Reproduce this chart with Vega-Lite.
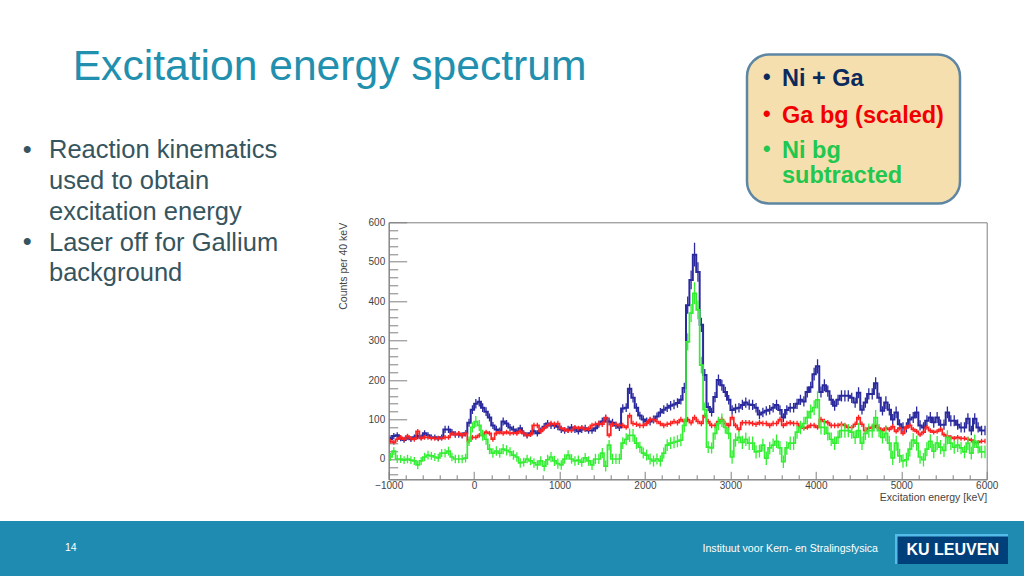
{
"$schema":"https://vega.github.io/schema/vega-lite/v6.json",
"width":598,"height":257,
"autosize":"none",
"padding":{"left":388.7,"top":222.3,"right":37.3,"bottom":96.7},
"background":"white",
"config":{"view":{"stroke":"#808080","strokeWidth":1},"font":"Liberation Sans"},
"datasets":{"spectrum":[
{"e":-980,"n":50,"ne":7,"g":45,"ge":6,"s":5,"se":10},
{"e":-940,"n":58,"ne":8,"g":42,"ge":6,"s":20,"se":10},
{"e":-900,"n":60,"ne":8,"g":50,"ge":6,"s":0,"se":10},
{"e":-860,"n":52,"ne":7,"g":55,"ge":6,"s":0,"se":10},
{"e":-820,"n":48,"ne":7,"g":50,"ge":6,"s":-3,"se":10},
{"e":-780,"n":56,"ne":7,"g":58,"ge":6,"s":0,"se":11},
{"e":-740,"n":50,"ne":7,"g":52,"ge":6,"s":-3,"se":10},
{"e":-700,"n":55,"ne":7,"g":50,"ge":6,"s":-5,"se":10},
{"e":-660,"n":58,"ne":8,"g":70,"ge":6,"s":-15,"se":11},
{"e":-620,"n":55,"ne":7,"g":52,"ge":6,"s":-5,"se":10},
{"e":-580,"n":65,"ne":8,"g":55,"ge":6,"s":5,"se":11},
{"e":-540,"n":60,"ne":8,"g":55,"ge":6,"s":10,"se":11},
{"e":-500,"n":55,"ne":7,"g":53,"ge":6,"s":8,"se":10},
{"e":-460,"n":55,"ne":7,"g":52,"ge":6,"s":5,"se":10},
{"e":-420,"n":52,"ne":7,"g":52,"ge":6,"s":3,"se":10},
{"e":-380,"n":55,"ne":7,"g":52,"ge":6,"s":15,"se":10},
{"e":-340,"n":75,"ne":9,"g":55,"ge":6,"s":15,"se":11},
{"e":-300,"n":75,"ne":9,"g":55,"ge":6,"s":20,"se":11},
{"e":-260,"n":68,"ne":8,"g":65,"ge":6,"s":5,"se":11},
{"e":-220,"n":62,"ne":8,"g":62,"ge":6,"s":0,"se":11},
{"e":-180,"n":62,"ne":8,"g":65,"ge":6,"s":0,"se":11},
{"e":-140,"n":60,"ne":8,"g":60,"ge":6,"s":0,"se":11},
{"e":-100,"n":65,"ne":8,"g":65,"ge":6,"s":2,"se":11},
{"e":-60,"n":92,"ne":10,"g":45,"ge":6,"s":45,"se":12},
{"e":-20,"n":125,"ne":11,"g":55,"ge":6,"s":80,"se":13},
{"e":20,"n":140,"ne":12,"g":55,"ge":6,"s":95,"se":14},
{"e":60,"n":145,"ne":12,"g":60,"ge":6,"s":85,"se":14},
{"e":100,"n":130,"ne":11,"g":60,"ge":6,"s":60,"se":14},
{"e":140,"n":120,"ne":11,"g":68,"ge":6,"s":50,"se":14},
{"e":180,"n":105,"ne":10,"g":65,"ge":6,"s":25,"se":13},
{"e":220,"n":85,"ne":9,"g":50,"ge":6,"s":15,"se":12},
{"e":260,"n":75,"ne":9,"g":65,"ge":6,"s":20,"se":12},
{"e":300,"n":72,"ne":8,"g":68,"ge":6,"s":15,"se":12},
{"e":340,"n":95,"ne":10,"g":65,"ge":6,"s":25,"se":13},
{"e":380,"n":90,"ne":9,"g":68,"ge":6,"s":22,"se":13},
{"e":420,"n":80,"ne":9,"g":65,"ge":6,"s":18,"se":12},
{"e":460,"n":75,"ne":9,"g":66,"ge":6,"s":10,"se":12},
{"e":500,"n":70,"ne":8,"g":65,"ge":6,"s":5,"se":12},
{"e":540,"n":78,"ne":9,"g":70,"ge":6,"s":-10,"se":12},
{"e":580,"n":65,"ne":8,"g":65,"ge":6,"s":-8,"se":11},
{"e":620,"n":60,"ne":8,"g":60,"ge":6,"s":0,"se":11},
{"e":660,"n":65,"ne":8,"g":62,"ge":6,"s":-5,"se":11},
{"e":700,"n":70,"ne":8,"g":85,"ge":7,"s":-10,"se":12},
{"e":740,"n":65,"ne":8,"g":85,"ge":7,"s":-15,"se":12},
{"e":780,"n":72,"ne":8,"g":70,"ge":6,"s":-5,"se":12},
{"e":820,"n":82,"ne":9,"g":78,"ge":6,"s":-18,"se":13},
{"e":860,"n":90,"ne":9,"g":85,"ge":7,"s":-2,"se":13},
{"e":900,"n":85,"ne":9,"g":90,"ge":7,"s":5,"se":13},
{"e":940,"n":85,"ne":9,"g":88,"ge":7,"s":-5,"se":13},
{"e":980,"n":82,"ne":9,"g":90,"ge":7,"s":-12,"se":13},
{"e":1020,"n":75,"ne":9,"g":78,"ge":6,"s":-15,"se":12},
{"e":1060,"n":72,"ne":8,"g":75,"ge":6,"s":0,"se":12},
{"e":1100,"n":75,"ne":9,"g":72,"ge":6,"s":10,"se":12},
{"e":1140,"n":80,"ne":9,"g":72,"ge":6,"s":0,"se":12},
{"e":1180,"n":75,"ne":9,"g":80,"ge":6,"s":-5,"se":12},
{"e":1220,"n":70,"ne":8,"g":78,"ge":6,"s":-3,"se":12},
{"e":1260,"n":75,"ne":9,"g":80,"ge":6,"s":-8,"se":12},
{"e":1300,"n":78,"ne":9,"g":75,"ge":6,"s":3,"se":12},
{"e":1340,"n":72,"ne":8,"g":77,"ge":6,"s":-5,"se":12},
{"e":1380,"n":72,"ne":8,"g":85,"ge":7,"s":-15,"se":13},
{"e":1420,"n":78,"ne":9,"g":88,"ge":7,"s":0,"se":13},
{"e":1460,"n":88,"ne":9,"g":90,"ge":7,"s":0,"se":13},
{"e":1500,"n":95,"ne":10,"g":88,"ge":7,"s":15,"se":13},
{"e":1540,"n":102,"ne":10,"g":105,"ge":7,"s":-18,"se":14},
{"e":1580,"n":95,"ne":10,"g":60,"ge":6,"s":35,"se":13},
{"e":1620,"n":92,"ne":10,"g":88,"ge":7,"s":0,"se":13},
{"e":1660,"n":85,"ne":9,"g":88,"ge":7,"s":0,"se":13},
{"e":1700,"n":80,"ne":9,"g":85,"ge":7,"s":0,"se":13},
{"e":1740,"n":128,"ne":11,"g":85,"ge":7,"s":40,"se":15},
{"e":1780,"n":130,"ne":11,"g":80,"ge":6,"s":50,"se":15},
{"e":1820,"n":178,"ne":13,"g":110,"ge":7,"s":60,"se":17},
{"e":1860,"n":155,"ne":12,"g":90,"ge":7,"s":60,"se":16},
{"e":1900,"n":130,"ne":11,"g":88,"ge":7,"s":40,"se":15},
{"e":1940,"n":110,"ne":10,"g":85,"ge":7,"s":30,"se":14},
{"e":1980,"n":100,"ne":10,"g":85,"ge":7,"s":15,"se":14},
{"e":2020,"n":95,"ne":10,"g":90,"ge":7,"s":10,"se":14},
{"e":2060,"n":95,"ne":10,"g":100,"ge":7,"s":0,"se":14},
{"e":2100,"n":100,"ne":10,"g":100,"ge":7,"s":-5,"se":14},
{"e":2140,"n":108,"ne":10,"g":95,"ge":7,"s":0,"se":14},
{"e":2180,"n":118,"ne":11,"g":90,"ge":7,"s":-5,"se":14},
{"e":2220,"n":125,"ne":11,"g":85,"ge":7,"s":15,"se":14},
{"e":2260,"n":130,"ne":11,"g":88,"ge":7,"s":35,"se":15},
{"e":2300,"n":135,"ne":12,"g":90,"ge":7,"s":40,"se":15},
{"e":2340,"n":138,"ne":12,"g":95,"ge":7,"s":42,"se":15},
{"e":2380,"n":142,"ne":12,"g":92,"ge":7,"s":45,"se":15},
{"e":2420,"n":150,"ne":12,"g":100,"ge":7,"s":48,"se":16},
{"e":2460,"n":180,"ne":13,"g":95,"ge":7,"s":85,"se":17},
{"e":2500,"n":390,"ne":22,"g":100,"ge":7,"s":297,"se":22},
{"e":2540,"n":454,"ne":24,"g":92,"ge":7,"s":370,"se":23},
{"e":2580,"n":518,"ne":30,"g":105,"ge":7,"s":420,"se":28},
{"e":2620,"n":474,"ne":25,"g":95,"ge":7,"s":378,"se":24},
{"e":2660,"n":340,"ne":18,"g":90,"ge":7,"s":238,"se":21},
{"e":2700,"n":213,"ne":15,"g":110,"ge":7,"s":125,"se":18},
{"e":2740,"n":132,"ne":11,"g":95,"ge":7,"s":30,"se":15},
{"e":2780,"n":119,"ne":11,"g":85,"ge":7,"s":28,"se":14},
{"e":2820,"n":157,"ne":13,"g":85,"ge":7,"s":65,"se":16},
{"e":2860,"n":200,"ne":14,"g":95,"ge":7,"s":90,"se":17},
{"e":2900,"n":187,"ne":14,"g":100,"ge":7,"s":98,"se":17},
{"e":2940,"n":170,"ne":13,"g":90,"ge":7,"s":80,"se":16},
{"e":2980,"n":150,"ne":12,"g":85,"ge":7,"s":65,"se":15},
{"e":3020,"n":124,"ne":12,"g":105,"ge":7,"s":5,"se":17},
{"e":3060,"n":128,"ne":12,"g":85,"ge":7,"s":48,"se":17},
{"e":3100,"n":130,"ne":12,"g":75,"ge":6,"s":55,"se":16},
{"e":3140,"n":137,"ne":13,"g":92,"ge":7,"s":42,"se":17},
{"e":3180,"n":143,"ne":13,"g":92,"ge":7,"s":50,"se":17},
{"e":3220,"n":138,"ne":13,"g":92,"ge":7,"s":40,"se":17},
{"e":3260,"n":137,"ne":13,"g":90,"ge":7,"s":40,"se":17},
{"e":3300,"n":130,"ne":12,"g":88,"ge":7,"s":18,"se":17},
{"e":3340,"n":113,"ne":12,"g":92,"ge":7,"s":20,"se":16},
{"e":3380,"n":118,"ne":12,"g":90,"ge":7,"s":35,"se":16},
{"e":3420,"n":122,"ne":12,"g":90,"ge":7,"s":2,"se":17},
{"e":3460,"n":125,"ne":12,"g":85,"ge":7,"s":28,"se":16},
{"e":3500,"n":130,"ne":12,"g":90,"ge":7,"s":35,"se":17},
{"e":3540,"n":137,"ne":13,"g":90,"ge":7,"s":45,"se":17},
{"e":3580,"n":124,"ne":12,"g":100,"ge":7,"s":28,"se":17},
{"e":3620,"n":105,"ne":11,"g":85,"ge":7,"s":-7,"se":16},
{"e":3660,"n":124,"ne":12,"g":90,"ge":7,"s":28,"se":17},
{"e":3700,"n":130,"ne":12,"g":92,"ge":7,"s":40,"se":17},
{"e":3740,"n":130,"ne":12,"g":90,"ge":7,"s":40,"se":17},
{"e":3780,"n":140,"ne":13,"g":90,"ge":7,"s":68,"se":17},
{"e":3820,"n":150,"ne":13,"g":82,"ge":7,"s":80,"se":17},
{"e":3860,"n":146,"ne":13,"g":78,"ge":6,"s":90,"se":17},
{"e":3900,"n":170,"ne":14,"g":80,"ge":6,"s":105,"se":18},
{"e":3940,"n":182,"ne":14,"g":85,"ge":7,"s":120,"se":18},
{"e":3980,"n":215,"ne":16,"g":85,"ge":7,"s":130,"se":19},
{"e":4020,"n":235,"ne":18,"g":80,"ge":6,"s":150,"se":22},
{"e":4060,"n":170,"ne":14,"g":100,"ge":7,"s":80,"se":18},
{"e":4100,"n":187,"ne":15,"g":95,"ge":7,"s":80,"se":19},
{"e":4140,"n":172,"ne":14,"g":92,"ge":7,"s":65,"se":18},
{"e":4180,"n":150,"ne":13,"g":85,"ge":7,"s":50,"se":17},
{"e":4220,"n":135,"ne":13,"g":85,"ge":7,"s":40,"se":17},
{"e":4260,"n":150,"ne":13,"g":85,"ge":7,"s":55,"se":17},
{"e":4300,"n":160,"ne":14,"g":88,"ge":7,"s":72,"se":18},
{"e":4340,"n":160,"ne":14,"g":85,"ge":7,"s":72,"se":18},
{"e":4380,"n":160,"ne":14,"g":80,"ge":6,"s":72,"se":17},
{"e":4420,"n":155,"ne":13,"g":80,"ge":6,"s":68,"se":17},
{"e":4460,"n":143,"ne":13,"g":88,"ge":7,"s":55,"se":17},
{"e":4500,"n":168,"ne":14,"g":105,"ge":7,"s":72,"se":19},
{"e":4540,"n":125,"ne":12,"g":88,"ge":7,"s":40,"se":17},
{"e":4580,"n":143,"ne":13,"g":72,"ge":6,"s":65,"se":17},
{"e":4620,"n":165,"ne":14,"g":78,"ge":6,"s":72,"se":18},
{"e":4660,"n":165,"ne":14,"g":80,"ge":6,"s":72,"se":18},
{"e":4700,"n":192,"ne":15,"g":85,"ge":7,"s":105,"se":19},
{"e":4740,"n":155,"ne":13,"g":78,"ge":6,"s":72,"se":17},
{"e":4780,"n":122,"ne":12,"g":72,"ge":6,"s":55,"se":16},
{"e":4820,"n":143,"ne":16,"g":78,"ge":6,"s":65,"se":20},
{"e":4860,"n":125,"ne":15,"g":75,"ge":6,"s":40,"se":19},
{"e":4900,"n":100,"ne":14,"g":82,"ge":7,"s":3,"se":18},
{"e":4940,"n":118,"ne":15,"g":70,"ge":6,"s":40,"se":19},
{"e":4980,"n":88,"ne":13,"g":78,"ge":6,"s":8,"se":18},
{"e":5020,"n":80,"ne":13,"g":65,"ge":6,"s":-5,"se":17},
{"e":5060,"n":80,"ne":13,"g":80,"ge":6,"s":-2,"se":18},
{"e":5100,"n":100,"ne":14,"g":85,"ge":7,"s":25,"se":19},
{"e":5140,"n":105,"ne":14,"g":75,"ge":6,"s":48,"se":18},
{"e":5180,"n":118,"ne":15,"g":70,"ge":6,"s":40,"se":19},
{"e":5220,"n":85,"ne":13,"g":62,"ge":6,"s":5,"se":17},
{"e":5260,"n":80,"ne":13,"g":68,"ge":6,"s":-2,"se":17},
{"e":5300,"n":97,"ne":14,"g":80,"ge":6,"s":25,"se":18},
{"e":5340,"n":105,"ne":14,"g":72,"ge":6,"s":45,"se":18},
{"e":5380,"n":93,"ne":14,"g":68,"ge":6,"s":20,"se":18},
{"e":5420,"n":105,"ne":14,"g":70,"ge":6,"s":40,"se":18},
{"e":5460,"n":87,"ne":13,"g":75,"ge":6,"s":30,"se":18},
{"e":5500,"n":87,"ne":13,"g":62,"ge":6,"s":22,"se":17},
{"e":5540,"n":118,"ne":15,"g":58,"ge":6,"s":55,"se":18},
{"e":5580,"n":97,"ne":14,"g":55,"ge":6,"s":40,"se":17},
{"e":5620,"n":97,"ne":14,"g":52,"ge":6,"s":30,"se":17},
{"e":5660,"n":87,"ne":13,"g":55,"ge":6,"s":35,"se":17},
{"e":5700,"n":80,"ne":13,"g":52,"ge":6,"s":28,"se":16},
{"e":5740,"n":80,"ne":13,"g":52,"ge":6,"s":18,"se":16},
{"e":5780,"n":102,"ne":14,"g":50,"ge":6,"s":40,"se":17},
{"e":5820,"n":72,"ne":12,"g":48,"ge":6,"s":15,"se":16},
{"e":5860,"n":102,"ne":14,"g":42,"ge":6,"s":45,"se":17},
{"e":5900,"n":80,"ne":13,"g":42,"ge":6,"s":30,"se":16},
{"e":5940,"n":72,"ne":12,"g":45,"ge":6,"s":18,"se":16},
{"e":5980,"n":72,"ne":12,"g":45,"ge":6,"s":18,"se":16}
]},
"layer":[
{"data":{"values":[{"part":"footer"}]},"mark":{"type":"rect","x":-388.7,"x2":635.3,"y":298.7,"y2":353.7,"fill":"#1F8BB0","stroke":null},"encoding":{}},
{"data":{"values":[{"part":"footer edge"}]},"mark":{"type":"rule","x":-388.7,"x2":635.3,"y":298.7,"stroke":"#7FBFD6","strokeWidth":1},"encoding":{}},
{"data":{"values":[{"part":"logo edge"}]},"mark":{"type":"rect","x":506.3,"x2":619.3,"y":311.7,"y2":341.7,"fill":"#55BBE8"},"encoding":{}},
{"data":{"values":[{"part":"logo"}]},"mark":{"type":"rect","x":508.8,"x2":619.3,"y":314.2,"y2":341.7,"fill":"#00407A"},"encoding":{}},
{"data":{"values":[{"t":"KU LEUVEN"}]},"mark":{"type":"text","x":564,"y":327.2,"align":"center","baseline":"middle","font":"Liberation Sans","fontWeight":"bold","fontSize":16,"color":"white"},"encoding":{"text":{"field":"t"}}},
{"data":{"values":[{"t":"Instituut voor Kern- en Stralingsfysica"}]},"mark":{"type":"text","x":489.3,"y":326.7,"align":"right","baseline":"middle","font":"Liberation Sans","fontSize":10.6,"color":"white"},"encoding":{"text":{"field":"t"}}},
{"data":{"values":[{"t":"14"}]},"mark":{"type":"text","x":-323.7,"y":326,"align":"left","baseline":"middle","font":"Liberation Sans","fontSize":10.5,"color":"white"},"encoding":{"text":{"field":"t"}}},
{"data":{"values":[{"t":"Excitation energy spectrum"}]},"mark":{"type":"text","x":-316,"y":-155.5,"align":"left","baseline":"middle","font":"Liberation Sans","fontSize":42.6,"color":"#2190AE"},"encoding":{"text":{"field":"t"}}},
{"data":{"values":[{"t":"Reaction kinematics\nused to obtain\nexcitation energy\nLaser off for Gallium\nbackground"}]},"mark":{"type":"text","x":-339.7,"y":-72,"align":"left","baseline":"middle","lineBreak":"\n","lineHeight":30.8,"font":"Liberation Sans","fontSize":25.5,"color":"#36555E"},"encoding":{"text":{"field":"t"}}},
{"data":{"values":[{"t":"•"}]},"mark":{"type":"text","x":-366,"y":-72.3,"align":"left","baseline":"middle","font":"Liberation Sans","fontSize":25.5,"color":"#36555E"},"encoding":{"text":{"field":"t"}}},
{"data":{"values":[{"t":"•"}]},"mark":{"type":"text","x":-366,"y":19.7,"align":"left","baseline":"middle","font":"Liberation Sans","fontSize":25.5,"color":"#36555E"},"encoding":{"text":{"field":"t"}}},
{"data":{"values":[{"part":"legend box"}]},"mark":{"type":"rect","x":358.3,"x2":571.3,"y":-167.8,"y2":-18.8,"fill":"#F6DFAE","stroke":"#5C86A3","strokeWidth":2.5,"cornerRadius":22},"encoding":{}},
{"data":{"values":[{"t":"Ni + Ga"}]},"mark":{"type":"text","x":393.3,"y":-143.5,"align":"left","baseline":"middle","font":"Liberation Sans","fontWeight":"bold","fontSize":23.5,"color":"#0B2A5C"},"encoding":{"text":{"field":"t"}}},
{"data":{"values":[{"t":"•"}]},"mark":{"type":"text","x":374,"y":-144,"align":"left","baseline":"middle","font":"Liberation Sans","fontSize":23,"color":"#0B2A5C"},"encoding":{"text":{"field":"t"}}},
{"data":{"values":[{"t":"Ga bg (scaled)"}]},"mark":{"type":"text","x":393.3,"y":-106.5,"align":"left","baseline":"middle","font":"Liberation Sans","fontWeight":"bold","fontSize":23.5,"color":"#F00000"},"encoding":{"text":{"field":"t"}}},
{"data":{"values":[{"t":"•"}]},"mark":{"type":"text","x":374,"y":-107,"align":"left","baseline":"middle","font":"Liberation Sans","fontSize":23,"color":"#F00000"},"encoding":{"text":{"field":"t"}}},
{"data":{"values":[{"t":"Ni bg\nsubtracted"}]},"mark":{"type":"text","x":393.3,"y":-71,"align":"left","baseline":"middle","lineBreak":"\n","lineHeight":25,"font":"Liberation Sans","fontWeight":"bold","fontSize":23.5,"color":"#22C74F"},"encoding":{"text":{"field":"t"}}},
{"data":{"values":[{"t":"•"}]},"mark":{"type":"text","x":374,"y":-72,"align":"left","baseline":"middle","font":"Liberation Sans","fontSize":23,"color":"#22C74F"},"encoding":{"text":{"field":"t"}}},
{"data":{"name":"spectrum"},"mark":{"type":"line","interpolate":"step","color":"#2A2A9E","strokeWidth":2,"clip":true},
 "encoding":{
  "x":{"field":"e","type":"quantitative","title":"Excitation energy [keV]","scale":{"domain":[-1000,6000],"nice":false,"zero":false},
   "axis":{"values":[-1000,-800,-600,-400,-200,0,200,400,600,800,1000,1200,1400,1600,1800,2000,2200,2400,2600,2800,3000,3200,3400,3600,3800,4000,4200,4400,4600,4800,5000,5200,5400,5600,5800,6000],"tickCount":200,
    "labelExpr":"datum.value % 1000 === 0 ? replace(format(datum.value,'d'),'-','−') : ''","labelOverlap":false,"labelFlush":false,"labelPadding":9,"labelFontSize":10,"labelColor":"#444","labelFont":"Liberation Sans",
    "tickColor":"#808080","domainColor":"#808080","grid":false,
    "tickSize":{"condition":{"test":"datum.value % 1000 === 0","value":-8},"value":-4.5},
    "titleFontSize":10.5,"titleFontWeight":"normal","titleColor":"#444","titleFont":"Liberation Sans","titleAnchor":"end","titleAlign":"right","titleX":598,"titleY":13}},
  "y":{"field":"n","type":"quantitative","title":"Counts per 40 keV","scale":{"domain":[-51.5,600],"nice":false,"zero":false},
   "axis":{"values":[-40,-20,0,20,40,60,80,100,120,140,160,180,200,220,240,260,280,300,320,340,360,380,400,420,440,460,480,500,520,540,560,580,600],"tickCount":200,
    "labelExpr":"datum.value % 100 === 0 ? format(datum.value,'d') : ''","labelOverlap":false,"labelFlush":false,"labelPadding":22,"labelFontSize":10,"labelColor":"#444","labelFont":"Liberation Sans",
    "tickColor":"#808080","domainColor":"#808080","grid":false,
    "tickSize":{"condition":{"test":"datum.value % 100 === 0","value":-18},"value":-9},
    "titleFontSize":10.5,"titleFontWeight":"normal","titleColor":"#444","titleFont":"Liberation Sans","titleAnchor":"end","titleAlign":"right","titleAngle":-90,"titleX":-40,"titleY":0}}
 }},
{"data":{"name":"spectrum"},"mark":{"type":"errorbar","ticks":false,"color":"#2A2A9E","clip":true,"rule":{"strokeWidth":1.3}},"encoding":{"x":{"field":"e","type":"quantitative","title":"Excitation energy [keV]"},"y":{"field":"n","type":"quantitative","title":"Counts per 40 keV"},"yError":{"field":"ne"}}},
{"data":{"name":"spectrum"},"mark":{"type":"line","interpolate":"step","color":"#FF2222","strokeWidth":1.7,"clip":true},"encoding":{"x":{"field":"e","type":"quantitative","title":"Excitation energy [keV]"},"y":{"field":"g","type":"quantitative","title":"Counts per 40 keV"}}},
{"data":{"name":"spectrum"},"mark":{"type":"errorbar","ticks":false,"color":"#FF2222","clip":true,"rule":{"strokeWidth":1.3}},"encoding":{"x":{"field":"e","type":"quantitative","title":"Excitation energy [keV]"},"y":{"field":"g","type":"quantitative","title":"Counts per 40 keV"},"yError":{"field":"ge"}}},
{"data":{"name":"spectrum"},"mark":{"type":"line","interpolate":"step","color":"#33EE33","strokeWidth":1.7,"clip":true},"encoding":{"x":{"field":"e","type":"quantitative","title":"Excitation energy [keV]"},"y":{"field":"s","type":"quantitative","title":"Counts per 40 keV"}}},
{"data":{"name":"spectrum"},"mark":{"type":"errorbar","ticks":false,"color":"#33EE33","clip":true,"rule":{"strokeWidth":1.3}},"encoding":{"x":{"field":"e","type":"quantitative","title":"Excitation energy [keV]"},"y":{"field":"s","type":"quantitative","title":"Counts per 40 keV"},"yError":{"field":"se"}}}
]
}
